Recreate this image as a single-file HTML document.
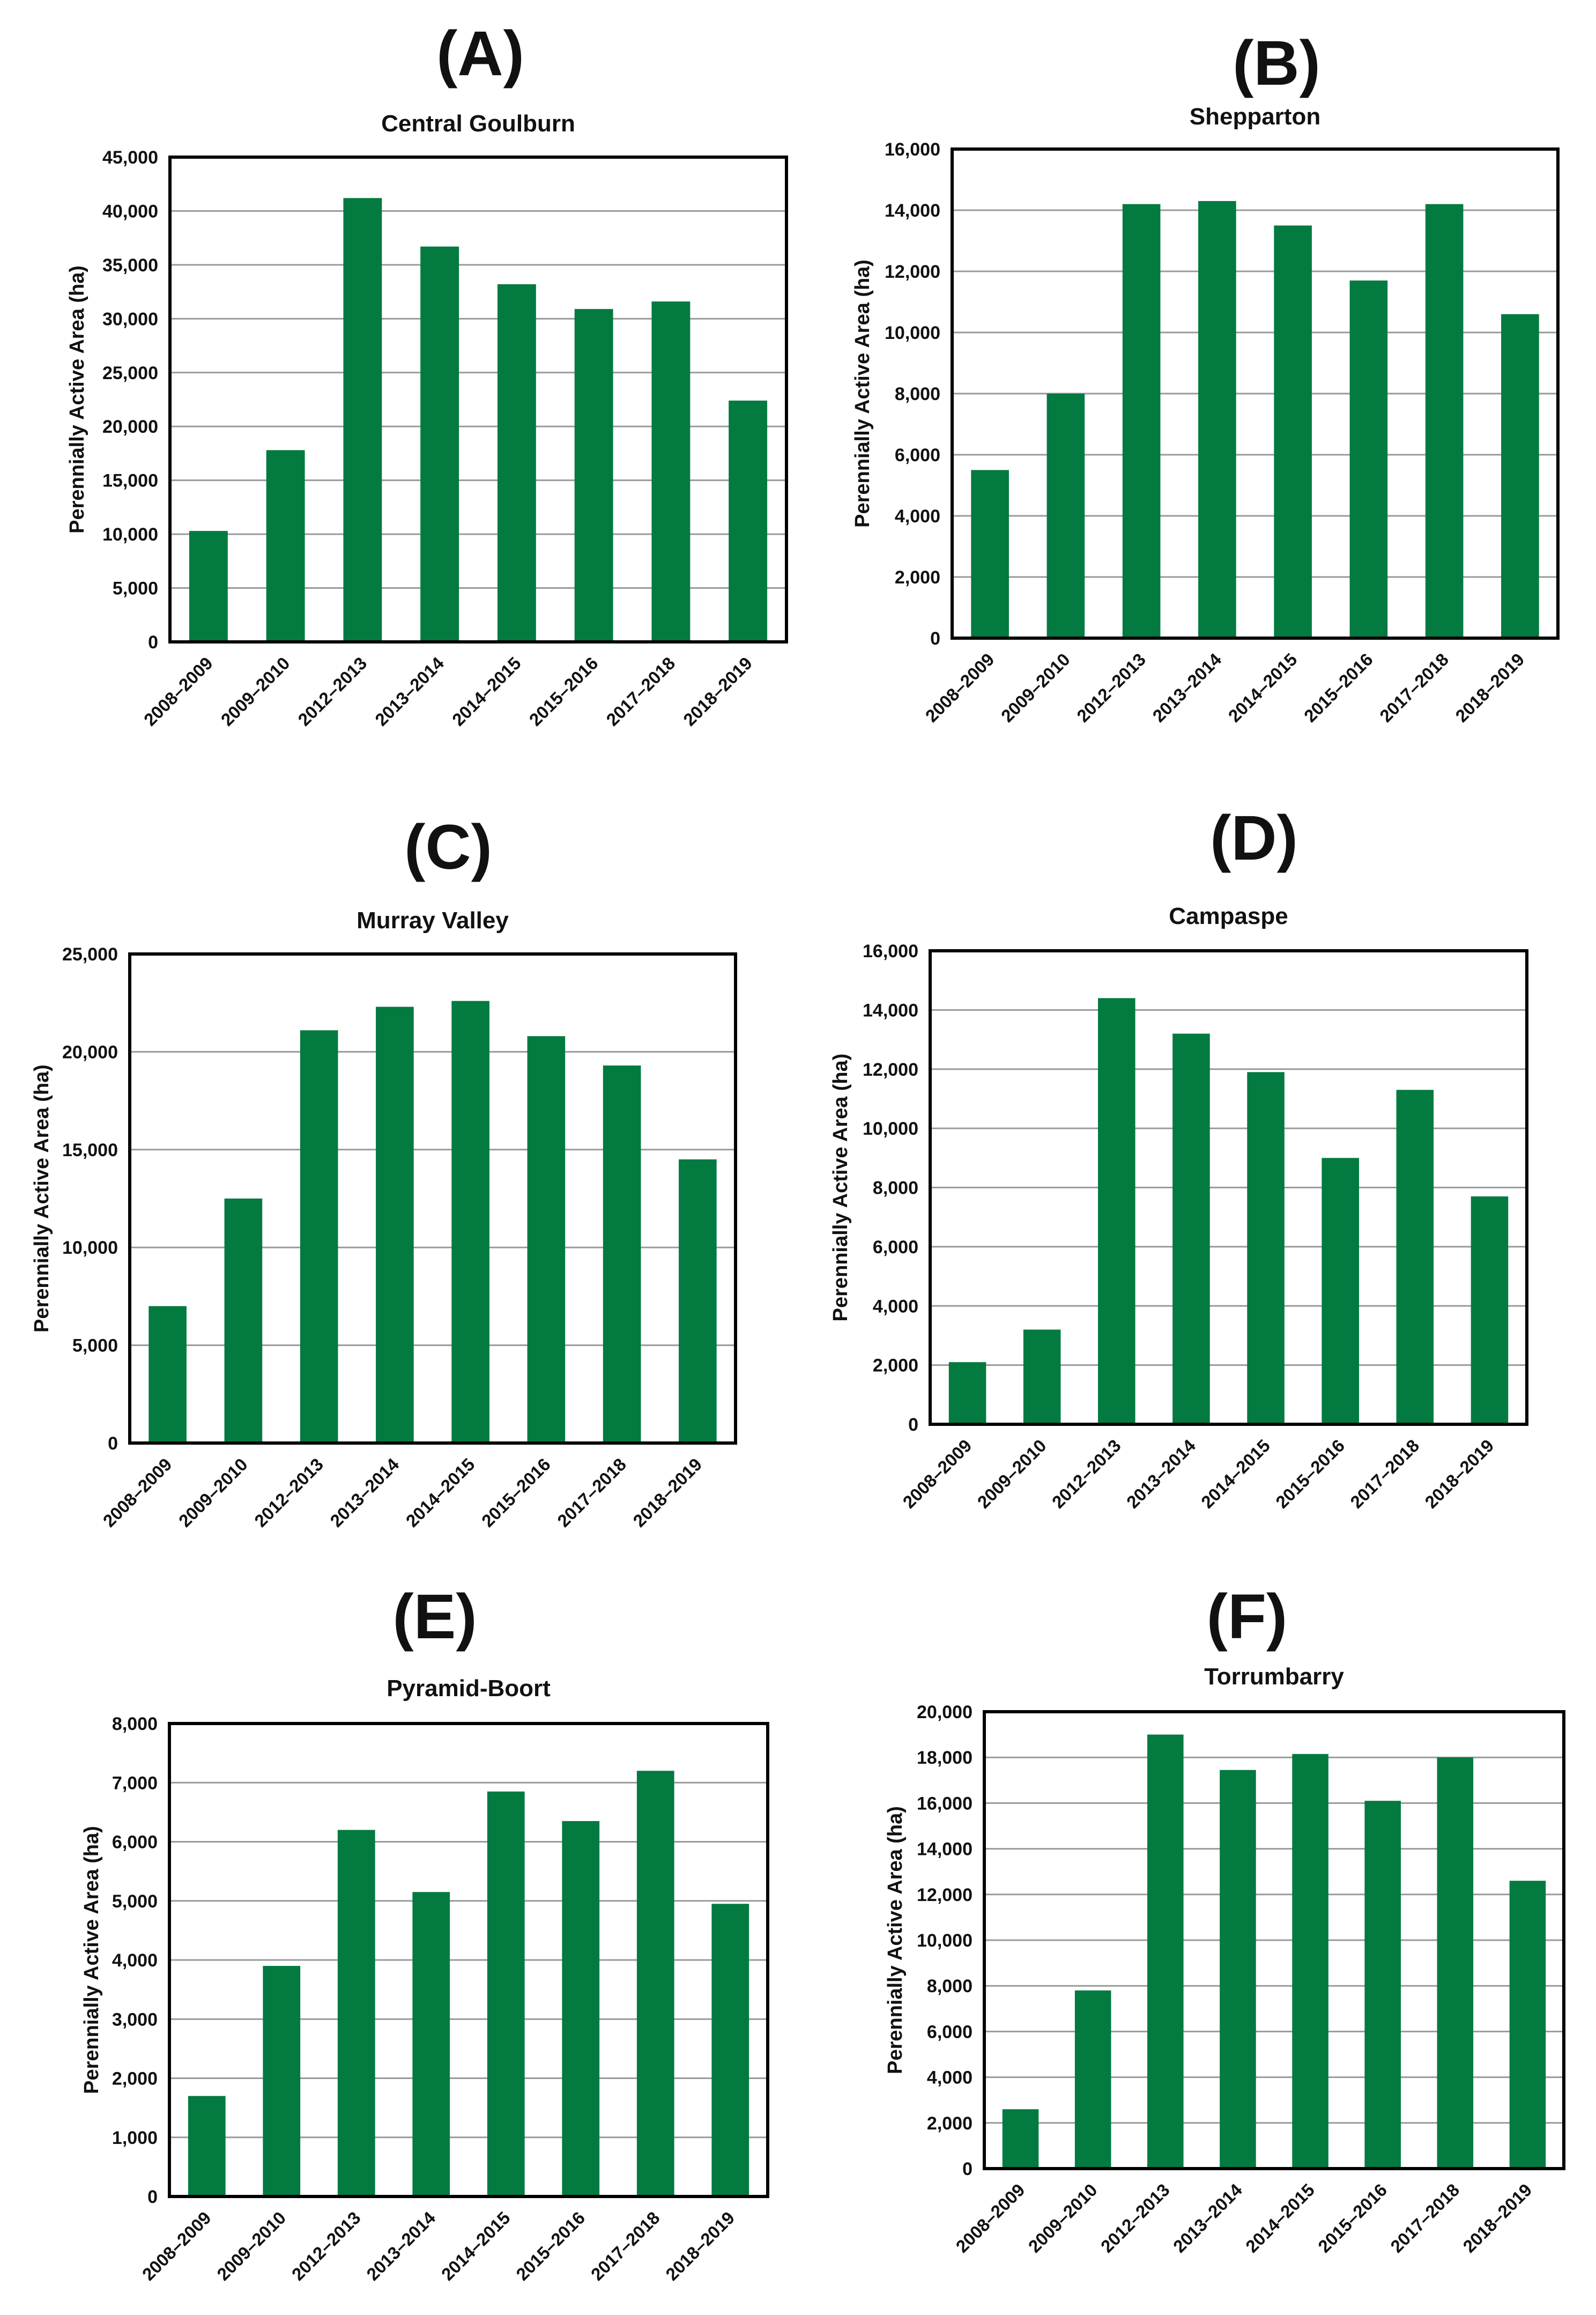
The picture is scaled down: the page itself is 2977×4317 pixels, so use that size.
<!DOCTYPE html>
<html><head><meta charset="utf-8">
<style>
html,body{margin:0;padding:0;background:#fff;}
svg{display:block;}
text{font-family:"Liberation Sans",sans-serif;fill:#111;}
</style></head>
<body>
<svg id="fig" width="2977" height="4317" viewBox="0 0 2977 4317" xmlns="http://www.w3.org/2000/svg"></svg>
<script>
const categories = ["2008–2009","2009–2010","2012–2013","2013–2014","2014–2015","2015–2016","2017–2018","2018–2019"];
const valuesA = [10300,17800,41200,36700,33200,30900,31600,22400];
const valuesB = [5500,8000,14200,14300,13500,11700,14200,10600];
const valuesC = [7000,12500,21100,22300,22600,20800,19300,14500];
const valuesD = [2100,3200,14400,13200,11900,9000,11300,7700];
const valuesE = [1700,3900,6200,5150,6850,6350,7200,4950];
const valuesF = [2600,7800,19000,17450,18150,16100,18000,12600];
const ticksA = [0,5000,10000,15000,20000,25000,30000,35000,40000,45000];
const ticksB = [0,2000,4000,6000,8000,10000,12000,14000,16000];
const ticksC = [0,5000,10000,15000,20000,25000];
const ticksD = [0,2000,4000,6000,8000,10000,12000,14000,16000];
const ticksE = [0,1000,2000,3000,4000,5000,6000,7000,8000];
const ticksF = [0,2000,4000,6000,8000,10000,12000,14000,16000,18000,20000];

const panels = [
 {id:'a',letter:'(A)',title:'Central Goulburn',vals:valuesA,ticks:ticksA,x0:317,x1:1467,y0:293,y1:1197,lx:896,ly:140,ty:245,axx:143},
 {id:'b',letter:'(B)',title:'Shepparton',vals:valuesB,ticks:ticksB,x0:1776,x1:2906,y0:278,y1:1190,lx:2381,ly:158,ty:232,axx:1608},
 {id:'c',letter:'(C)',title:'Murray Valley',vals:valuesC,ticks:ticksC,x0:242,x1:1372,y0:1779,y1:2691,lx:836,ly:1620,ty:1731,axx:77},
 {id:'d',letter:'(D)',title:'Campaspe',vals:valuesD,ticks:ticksD,x0:1735,x1:2848,y0:1773,y1:2656,lx:2339,ly:1603,ty:1723,axx:1567},
 {id:'e',letter:'(E)',title:'Pyramid-Boort',vals:valuesE,ticks:ticksE,x0:316,x1:1432,y0:3214,y1:4096,lx:811,ly:3055,ty:3163,axx:170},
 {id:'f',letter:'(F)',title:'Torrumbarry',vals:valuesF,ticks:ticksF,x0:1836,x1:2917,y0:3192,y1:4044,lx:2326,ly:3055,ty:3141,axx:1669}
];
const NS='http://www.w3.org/2000/svg';
const svg=document.getElementById('fig');
function mk(tag,attrs,parent){const e=document.createElementNS(NS,tag);for(const k in attrs)e.setAttribute(k,attrs[k]);parent.appendChild(e);return e;}
function fmt(v){return v.toLocaleString('en-US');}
panels.forEach(p=>{
  const g=mk('g',{},svg);
  
  
  const maxV=p.ticks[p.ticks.length-1];
  const y=v=>p.y1-(v/maxV)*(p.y1-p.y0);
  const bw=(p.x1-p.x0)/categories.length;
  const xc=i=>p.x0+bw*(i+0.5);
  const L=mk('text',{x:p.lx,y:p.ly,'text-anchor':'middle','font-size':118,'font-weight':'bold'},g);
  L.textContent=p.letter;
  
  
  const T=mk('text',{x:(p.x0+p.x1)/2,y:p.ty,'text-anchor':'middle','font-size':44,'font-weight':'bold'},g);
  T.textContent=p.title;
  
  
  p.ticks.forEach(t=>{
    if(t>0&&t<maxV){const gl=mk('line',{x1:p.x0,x2:p.x1,y1:y(t),y2:y(t),stroke:'#9a9a9a','stroke-width':3},g);
      
      }
    const tl=mk('text',{x:p.x0-22,y:y(t)+12,'text-anchor':'end','font-size':34,'font-weight':'bold'},g);
    tl.textContent=fmt(t);
    
    
  });
  p.vals.forEach((v,i)=>{
    const r=mk('rect',{x:xc(i)-bw*0.25,y:y(v),width:bw*0.5,height:p.y1-y(v),fill:'#037a40'},g);
    
    
    const xl=mk('text',{'text-anchor':'end','font-size':33,'font-weight':'bold',transform:`translate(${xc(i)+10},${p.y1+42}) rotate(-45)`},g);
    xl.textContent=categories[i];
    
    
  });
  const box=mk('rect',{x:p.x0,y:p.y0,width:p.x1-p.x0,height:p.y1-p.y0,fill:'none',stroke:'#000','stroke-width':6},g);
  
  
  const cy=(p.y0+p.y1)/2;
  const at=mk('text',{'text-anchor':'middle','font-size':38,'font-weight':'bold',transform:`translate(${p.axx+13},${cy}) rotate(-90)`},g);
  at.textContent='Perennially Active Area (ha)';
  
  
});
</script>
</body></html>
